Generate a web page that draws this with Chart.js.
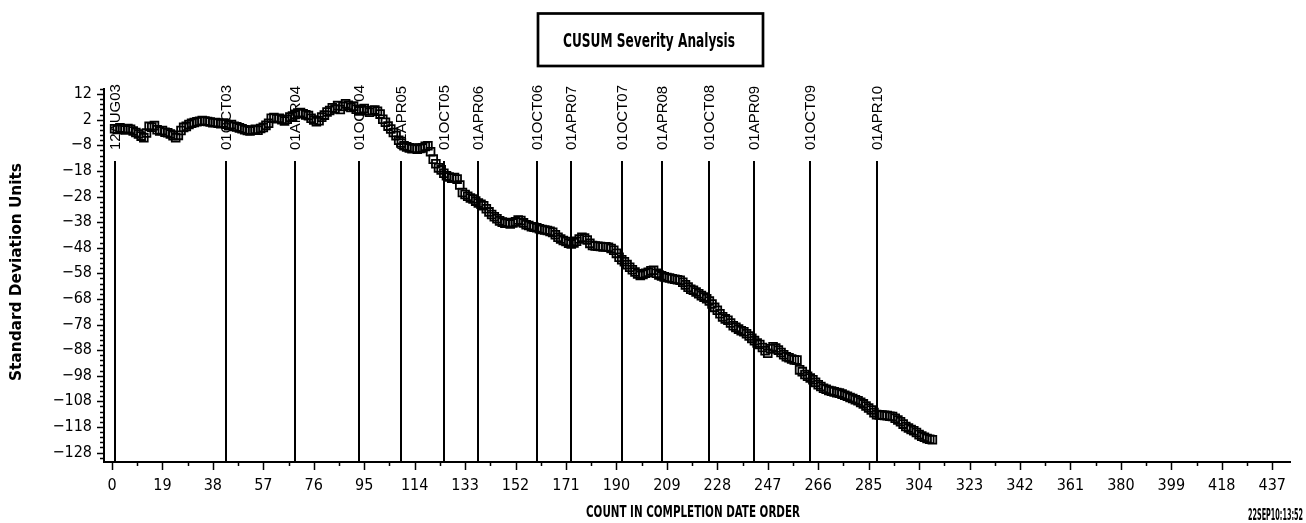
<!DOCTYPE html>
<html>
<head>
<meta charset="utf-8">
<title>CUSUM Severity Analysis</title>
<script src="https://cdn.jsdelivr.net/npm/chart.js@4.4.0/dist/chart.umd.min.js"></script>
<style>
  html, body { margin: 0; padding: 0; background: #fff; }
  canvas { display: block; }
</style>
</head>
<body>
<canvas id="cusumChart" width="1306" height="523"></canvas>
<script>
// cusum value for each observation, in completion date order (count 1..309)
const cusum = [
  -1.5, -1.8, -1.2, -1.5, -2.0, -1.4, -1.7, -2.4, -3.0, -3.6,
  -4.4, -5.0, -3.2, -0.6, -0.9, -0.3, -1.9, -2.4, -2.2, -2.9,
  -3.1, -3.6, -4.2, -5.0, -4.1, -2.2, -1.0, -0.6, 0.1, 0.6,
  0.9, 1.2, 1.4, 1.7, 1.5, 1.3, 1.1, 0.8, 0.9, 0.6,
  0.4, 0.7, 0.2, -0.3, 0.1, -0.6, -0.8, -1.2, -1.5, -1.9,
  -2.2, -2.4, -2.0, -1.7, -2.1, -1.4, -1.0, -0.2, 0.6, 2.6,
  2.9, 2.4, 2.6, 2.0, 1.5, 2.2, 3.0, 3.4, 4.1, 4.6,
  4.8, 4.3, 3.9, 3.6, 2.6, 1.9, 1.2, 1.6, 3.0, 3.8,
  5.0, 5.6, 6.7, 6.2, 7.5, 6.0, 7.2, 8.2, 7.6, 6.8,
  7.3, 6.1, 5.4, 5.9, 6.4, 5.5, 4.9, 5.6, 5.8, 5.3,
  4.2, 2.2, 1.0, -0.5, -1.6, -3.0, -4.2, -6.0, -7.1, -8.2,
  -8.6, -9.0, -9.3, -9.1, -9.5, -9.2, -9.0, -8.4, -8.2, -10.5,
  -13.4, -15.2, -16.8, -17.6, -18.9, -19.9, -20.4, -20.8, -20.6, -21.2,
  -23.5, -26.4, -27.2, -27.9, -28.6, -29.0, -29.8, -30.5, -31.0, -31.6,
  -32.8, -34.0, -35.0, -35.9, -36.7, -37.5, -38.0, -38.4, -38.2, -38.7,
  -38.3, -37.9, -37.2, -37.4, -38.3, -39.0, -39.3, -39.8, -40.0, -40.2,
  -40.6, -40.9, -41.1, -41.3, -41.6, -42.0, -42.9, -43.9, -44.6, -45.2,
  -45.6, -46.2, -46.5, -46.1, -45.5, -44.6, -43.9, -44.2, -45.0, -46.3,
  -47.1, -47.3, -47.4, -47.5, -47.7, -47.6, -47.8, -48.3, -49.0, -50.2,
  -51.7, -52.7, -53.5, -54.6, -55.6, -56.6, -57.5, -58.2, -58.8, -58.4,
  -58.0, -57.6, -57.0, -56.8, -58.0, -58.6, -59.0, -59.4, -59.6, -59.8,
  -60.1, -60.3, -60.5, -60.7, -61.5, -62.5, -63.4, -64.2, -64.6, -65.3,
  -66.0, -66.7, -67.3, -67.9, -68.8, -70.0, -71.3, -72.4, -73.8, -75.0,
  -75.8, -76.3, -77.4, -78.5, -79.1, -79.8, -80.4, -80.8, -81.6, -82.5,
  -83.4, -84.3, -85.2, -85.8, -87.0, -88.2, -89.2, -87.5, -86.7, -87.2,
  -88.0, -88.9, -89.8, -90.6, -91.0, -91.5, -91.8, -91.9, -95.7, -96.4,
  -97.5, -98.2, -98.9, -99.6, -100.6, -101.5, -102.2, -102.9, -103.3, -103.8,
  -104.0, -104.3, -104.6, -104.8, -105.2, -105.6, -106.0, -106.5, -106.9, -107.4,
  -107.8, -108.4, -109.0, -109.8, -110.6, -111.4, -112.4, -113.2, -113.3, -113.4,
  -113.5, -113.6, -113.8, -113.9, -114.6, -115.3, -116.0, -116.9, -117.8, -118.4,
  -119.0, -119.5, -120.2, -121.0, -121.6, -122.0, -122.5, -122.8, -123.0
];

const xTicks = [0, 19, 38, 57, 76, 95, 114, 133, 152, 171, 190, 209, 228, 247, 266, 285, 304, 323, 342, 361, 380, 399, 418, 437];
const yTicks = [12, 2, -8, -18, -28, -38, -48, -58, -68, -78, -88, -98, -108, -118, -128];

// date reference lines (label + count where the date starts)
const refDates = ["12AUG03", "01OCT03", "01APR04", "01OCT04", "01APR05", "01OCT05", "01APR06", "01OCT06", "01APR07", "01OCT07", "01APR08", "01OCT08", "01APR09", "01OCT09", "01APR10"];
const refCounts = [1, 43, 69, 93, 109, 125, 138, 160, 173, 192, 207, 225, 242, 263, 288];

const chartTitle = "CUSUM Severity Analysis";
const xTitle = "COUNT IN COMPLETION DATE ORDER";
const yTitle = "Standard Deviation Units";
const stamp = "22SEP10:13:52";

const narrow = "'Liberation Sans Narrow', 'DejaVu Sans Condensed', Arial, sans-serif";

const sasDecor = {
  id: "sasDecor",
  beforeDatasetsDraw(chart) {
    const { ctx, chartArea, scales } = chart;
    const x = scales.x;
    const y = scales.y;
    ctx.save();

    // vertical date lines with rotated labels
    const lineTop = chartArea.top + 72;
    ctx.strokeStyle = "#000";
    ctx.fillStyle = "#000";
    ctx.lineWidth = 2;
    ctx.font = "15px 'Liberation Sans', Arial, sans-serif";
    refCounts.forEach((c, i) => {
      const px = Math.round(x.getPixelForValue(c));
      ctx.beginPath();
      ctx.moveTo(px, lineTop);
      ctx.lineTo(px, chartArea.bottom);
      ctx.stroke();
      ctx.save();
      ctx.translate(px + 1, lineTop - 11);
      ctx.rotate(-Math.PI / 2);
      ctx.textAlign = "left";
      ctx.textBaseline = "middle";
      ctx.fillText(refDates[i], 0, 0);
      ctx.restore();
    });

    // tick marks, major and minor
    ctx.lineWidth = 1.5;
    ctx.beginPath();
    for (let v = 14; v >= -130; v -= 2) {
      const py = Math.round(y.getPixelForValue(v)) + 0.5;
      const len = yTicks.includes(v) ? 7 : 4;
      ctx.moveTo(chartArea.left - len, py);
      ctx.lineTo(chartArea.left, py);
    }
    for (let v = 0; v <= 437; v += 9.5) {
      const px = Math.round(x.getPixelForValue(v)) + 0.5;
      const len = xTicks.includes(v) ? 8 : 4;
      ctx.moveTo(px, chartArea.bottom);
      ctx.lineTo(px, chartArea.bottom + len);
    }
    ctx.stroke();
    ctx.restore();
  },
  afterDraw(chart) {
    const { ctx } = chart;
    ctx.save();
    ctx.fillStyle = "#000";
    ctx.strokeStyle = "#000";

    // boxed title
    ctx.lineWidth = 2.7;
    ctx.strokeRect(538, 13.5, 225, 52.5);
    ctx.font = "bold 19px " + narrow;
    ctx.textAlign = "center";
    ctx.textBaseline = "middle";
    ctx.fillText(chartTitle, 649, 42, 172);

    // axis titles
    ctx.font = "bold 16px " + narrow;
    ctx.fillText(xTitle, 693, 513, 214);

    ctx.save();
    ctx.translate(17, 272);
    ctx.rotate(-Math.PI / 2);
    ctx.font = "bold 16px 'DejaVu Sans', sans-serif";
    ctx.fillText(yTitle, 0, 0, 218);
    ctx.restore();

    // run timestamp
    ctx.font = "bold 15px " + narrow;
    ctx.textAlign = "right";
    ctx.fillText(stamp, 1303, 516, 55);
    ctx.restore();
  },
};

const points = cusum.map((v, i) => ({ x: i + 1, y: v }));

const config = {
  type: "scatter",
  data: {
    datasets: [
      {
        label: "CUSUM",
        data: points,
        pointStyle: "rect",
        pointRadius: 5.5,
        pointBorderWidth: 1.8,
        borderColor: "#000",
        backgroundColor: "rgba(0,0,0,0)",
        showLine: false,
      },
    ],
  },
  options: {
    responsive: false,
    animation: false,
    layout: { padding: { top: 89, right: 16, bottom: 0, left: 0 } },
    scales: {
      x: {
        type: "linear",
        min: -3,
        max: 443.7,
        grid: { display: false, drawTicks: false },
        border: { display: true, color: "#000", width: 2 },
        afterBuildTicks: (s) => {
          s.ticks = xTicks.map((v) => ({ value: v }));
        },
        afterFit: (s) => {
          s.height = 61;
        },
        ticks: {
          autoSkip: false,
          maxRotation: 0,
          padding: 14,
          color: "#000",
          font: { family: narrow, size: 16 },
          callback: (v) => String(v),
        },
      },
      y: {
        type: "linear",
        min: -131.7,
        max: 14,
        grid: { display: false, drawTicks: false },
        border: { display: true, color: "#000", width: 2 },
        afterBuildTicks: (s) => {
          s.ticks = yTicks.map((v) => ({ value: v }));
        },
        afterFit: (s) => {
          s.width = 104;
        },
        ticks: {
          autoSkip: false,
          padding: 12,
          color: "#000",
          font: { family: narrow, size: 16 },
          callback: (v) => (v < 0 ? "\u2212" + Math.abs(v) : String(v)),
        },
      },
    },
    plugins: {
      legend: { display: false },
      tooltip: { enabled: false },
      title: { display: false },
    },
  },
  plugins: [sasDecor],
};

const cusumChart = new Chart(document.getElementById("cusumChart"), config);
</script>
</body>
</html>
